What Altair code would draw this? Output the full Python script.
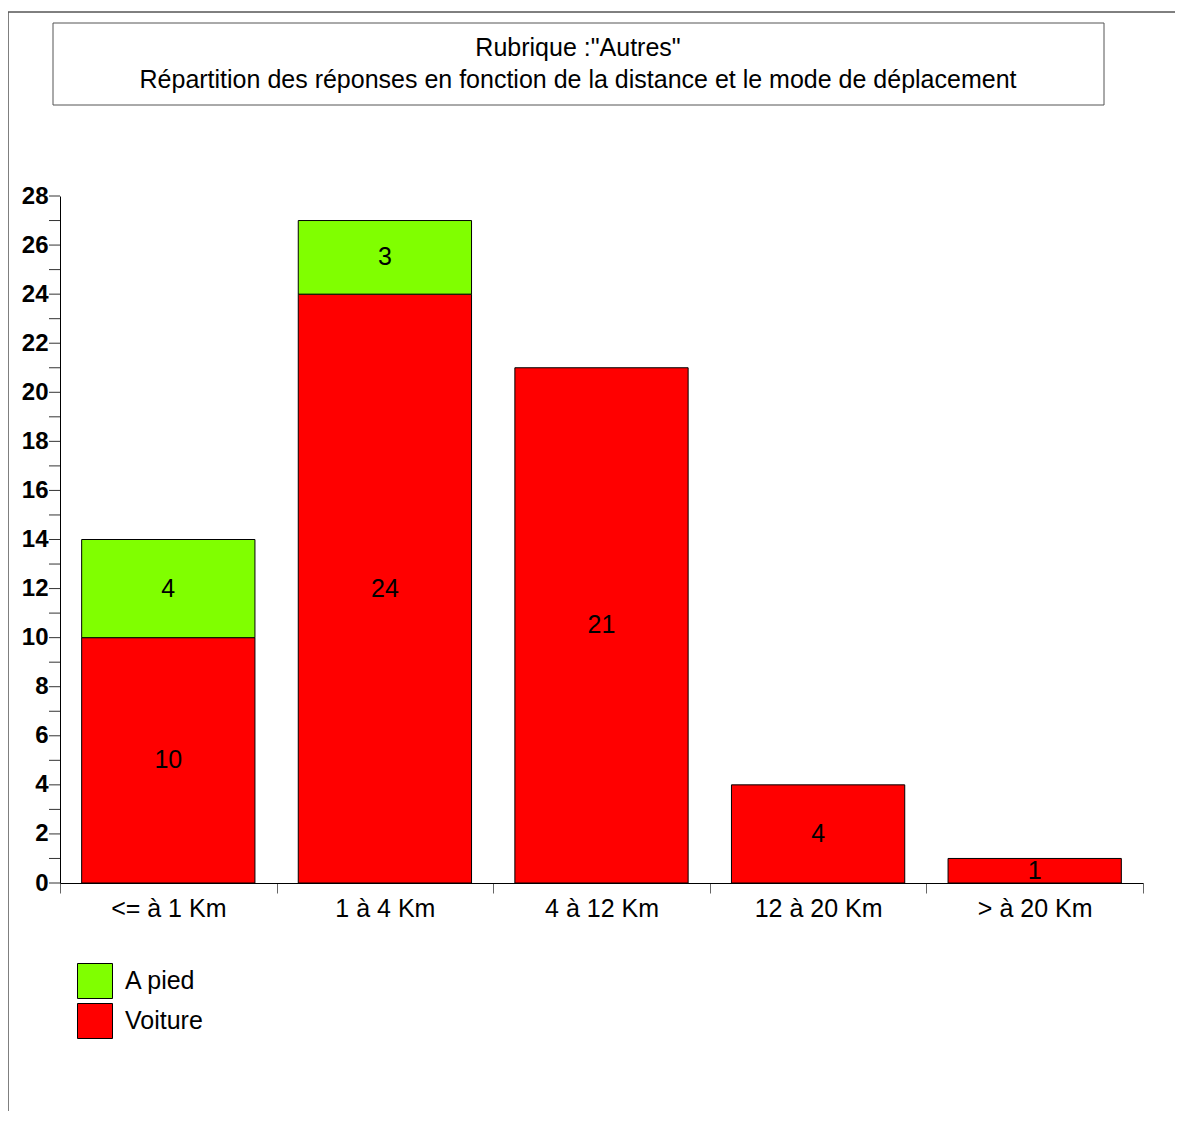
import altair as alt
import pandas as pd

distances = ["<= à 1 Km", "1 à 4 Km", "4 à 12 Km", "12 à 20 Km", "> à 20 Km"]
voiture = [10, 24, 21, 4, 1]
a_pied = [4, 3, 0, 0, 0]
modes = ["A pied", "Voiture"]
colors = ["#80ff00", "#ff0000"]
y_labels = list(range(0, 29, 2))
y_ticks = list(range(0, 29))
title_lines = ['Rubrique :"Autres"',
               "Répartition des réponses en fonction de la distance et le mode de déplacement"]

rows = []
for d, v, p in zip(distances, voiture, a_pied):
    rows.append({"distance": d, "mode": "Voiture", "value": v, "ord": 0})
    if p > 0:
        rows.append({"distance": d, "mode": "A pied", "value": p, "ord": 1})
df = pd.DataFrame(rows)

FONT = "Liberation Sans"
FS = 25
W, H = 1083, 687

base = alt.Chart(df).transform_stack(
    stack="value", groupby=["distance"], sort=[alt.SortField("ord")], as_=["y0", "y1"]
).transform_calculate(mid="(datum.y0 + datum.y1) / 2")

xscale = alt.Scale(paddingInner=0, paddingOuter=0)
yscale = alt.Scale(domain=[0, 28], nice=False)
xenc = alt.X("distance:N", sort=distances, title=None, scale=xscale,
             axis=alt.Axis(labelAngle=0, labelFontSize=FS, labelFont=FONT, labelColor="black",
                           labelPadding=3, tickBand="extent", tickSize=10, tickColor="#666",
                           domainColor="black", labelFontWeight="normal"))

bars = base.mark_bar(stroke="black", strokeWidth=1, opacity=1,
                     width=alt.RelativeBandSize(0.8)).encode(
    x=xenc,
    y=alt.Y("y0:Q", title=None, scale=yscale,
            axis=alt.Axis(values=y_labels, labelOverlap=False,
                          labelFontSize=24, labelFont=FONT, labelFontWeight="bold",
                          labelColor="black", ticks=False, labelPadding=12,
                          domainColor="black", grid=False)),
    y2="y1:Q",
    color=alt.Color("mode:N", scale=alt.Scale(domain=modes, range=colors),
                    legend=alt.Legend(title=None, orient="none", legendX=17, legendY=767,
                                      symbolType="square", symbolSize=1225,
                                      symbolStrokeColor="black", symbolStrokeWidth=1,
                                      symbolOpacity=1, labelFontSize=FS, labelFont=FONT,
                                      labelColor="black", labelOffset=12, rowPadding=0,
                                      padding=0)),
)

labels = base.mark_text(fontSize=FS, font=FONT, color="black", baseline="middle", align="center").encode(
    x=alt.X("distance:N", sort=distances, scale=xscale),
    y=alt.Y("mid:Q", scale=yscale),
    text=alt.Text("value:Q"),
)

ticks = alt.Chart(pd.DataFrame({"t": y_ticks})).mark_rule(color="#333", strokeWidth=1).encode(
    y=alt.Y("t:Q", scale=yscale),
    x=alt.value(-11), x2=alt.value(0))

one = alt.Data(values=[{"a": 1}])
title_box = alt.Chart(one).mark_rect(fill="white", stroke="#555", strokeWidth=1).encode(
    x=alt.value(-7), x2=alt.value(1044), y=alt.value(-173), y2=alt.value(-91))
t1 = alt.Chart(one).mark_text(fontSize=FS, font=FONT, color="black", baseline="middle", align="center").encode(
    x=alt.value(518), y=alt.value(-148), text=alt.value(title_lines[0]))
t2 = alt.Chart(one).mark_text(fontSize=FS, font=FONT, color="black", baseline="middle", align="center").encode(
    x=alt.value(518), y=alt.value(-116), text=alt.value(title_lines[1]))
top_line = alt.Chart(one).mark_rule(color="black", strokeWidth=1).encode(
    x=alt.value(-52), x2=alt.value(1115), y=alt.value(-184))
left_line = alt.Chart(one).mark_rule(color="#555", strokeWidth=1.5).encode(
    x=alt.value(-52), y=alt.value(-184), y2=alt.value(925))

chart = alt.layer(top_line, left_line, title_box, t1, t2, bars, labels, ticks).properties(
    width=W, height=H,
    background="white",
    autosize=alt.AutoSizeParams(type="none"),
    padding={"left": 52, "top": 188, "right": 32, "bottom": 228},
).configure(view=alt.ViewConfig(stroke=None, strokeWidth=0))

chart.save("out.html", embed_options={"renderer": "svg", "actions": False})
